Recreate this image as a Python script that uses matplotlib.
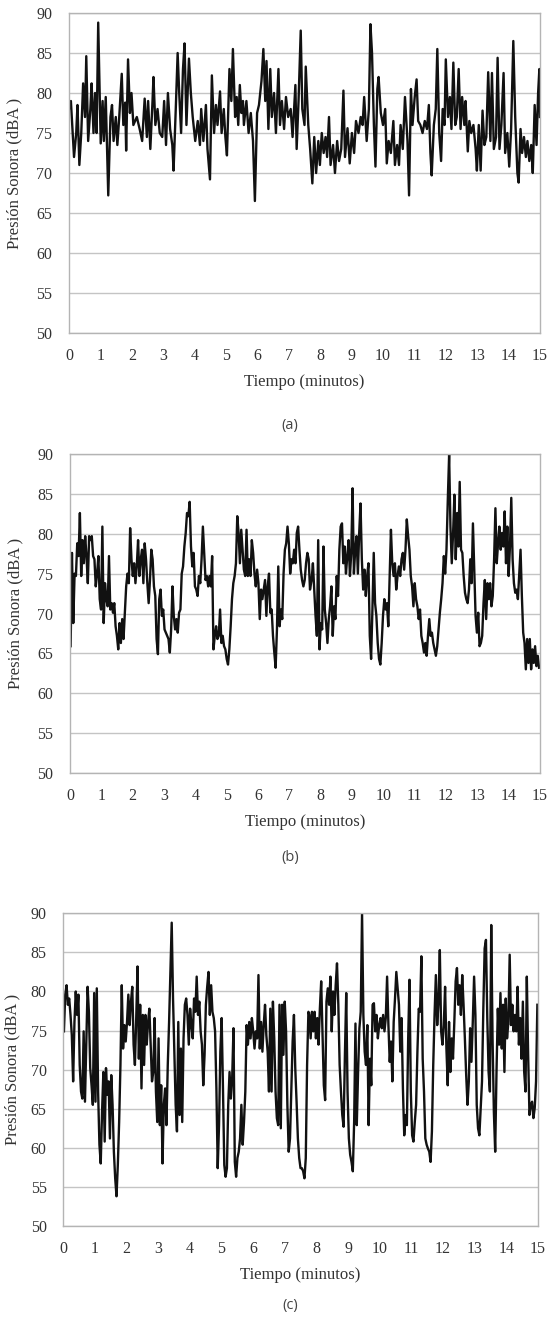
import numpy as np
import matplotlib
matplotlib.use('Agg')
import matplotlib.pyplot as plt

# --- panel (a): readings in minutes / dBA
time_a = [0.00, 0.06, 0.16, 0.23, 0.27, 0.33, 0.39, 0.45, 0.51, 0.55,
          0.61, 0.68, 0.72, 0.78, 0.83, 0.88, 0.93, 1.01, 1.07, 1.11,
          1.17, 1.25, 1.32, 1.37, 1.42, 1.49, 1.54, 1.60, 1.68, 1.73,
          1.79, 1.82, 1.88, 1.94, 1.99, 2.05, 2.16, 2.25, 2.33, 2.41,
          2.48, 2.52, 2.59, 2.66, 2.69, 2.75, 2.82, 2.89, 2.97, 3.03,
          3.09, 3.15, 3.22, 3.29, 3.33, 3.40, 3.46, 3.51, 3.57, 3.63,
          3.68, 3.74, 3.82, 3.88, 3.94, 4.02, 4.10, 4.17, 4.21, 4.28,
          4.36, 4.41, 4.49, 4.55, 4.62, 4.68, 4.73, 4.81, 4.86, 4.93,
          4.98, 5.03, 5.11, 5.17, 5.22, 5.29, 5.34, 5.39, 5.44, 5.49,
          5.54, 5.57, 5.65, 5.72, 5.79, 5.86, 5.92, 5.99, 6.05, 6.13,
          6.19, 6.25, 6.29, 6.35, 6.41, 6.46, 6.53, 6.59, 6.67, 6.72,
          6.78, 6.85, 6.91, 6.98, 7.06, 7.12, 7.21, 7.25, 7.31, 7.38,
          7.43, 7.50, 7.54, 7.62, 7.68, 7.75, 7.81, 7.87, 7.94, 7.99,
          8.05, 8.11, 8.17, 8.22, 8.28, 8.33, 8.41, 8.47, 8.54, 8.60,
          8.67, 8.74, 8.79, 8.87, 8.94, 9.01, 9.08, 9.14, 9.22, 9.29,
          9.35, 9.40, 9.48, 9.55, 9.60, 9.65, 9.71, 9.76, 9.82, 9.86,
          9.93, 10.00, 10.07, 10.12, 10.18, 10.25, 10.33, 10.38, 10.45, 10.51,
          10.56, 10.63, 10.70, 10.78, 10.83, 10.89, 10.94, 11.01, 11.07, 11.12,
          11.19, 11.26, 11.33, 11.40, 11.46, 11.51, 11.55, 11.62, 11.68, 11.73,
          11.79, 11.85, 11.90, 11.96, 12.00, 12.07, 12.13, 12.18, 12.24, 12.30,
          12.35, 12.41, 12.47, 12.52, 12.59, 12.63, 12.70, 12.75, 12.81, 12.88,
          12.95, 12.99, 13.05, 13.11, 13.17, 13.23, 13.29, 13.35, 13.42, 13.47,
          13.53, 13.60, 13.65, 13.71, 13.77, 13.84, 13.89, 13.96, 14.02, 14.08,
          14.15, 14.21, 14.28, 14.32, 14.38, 14.43, 14.49, 14.55, 14.60, 14.66,
          14.72, 14.77, 14.83, 14.89, 14.94, 14.98, 15.00]
level_a = [78, 79, 72, 75, 78.5, 71, 75, 81.2, 77, 84.6,
           74, 78, 81.2, 75, 80, 75, 88.8, 73.7, 79, 74,
           79.5, 67.2, 77, 78.5, 74, 77, 73.5, 77, 82.4, 76,
           78.8, 72.8, 84.2, 77.5, 80, 76, 77, 75.5, 74, 79.3,
           74.5, 79, 73, 79, 82, 76, 78, 75, 74.5, 79,
           73.5, 80, 75.5, 73.5, 70.3, 78, 85, 80, 75, 83,
           86.2, 76, 84.3, 80, 77, 74, 76.5, 73.5, 78, 74,
           78.5, 73, 69.2, 82.2, 75, 78.5, 76, 80.2, 75, 78,
           74.5, 72.2, 83, 79, 85.5, 77, 79.5, 76, 81, 77.5,
           79, 76, 79, 75, 77.5, 74, 66.5, 77.5, 78.5, 81.5,
           85.5, 79, 84, 75.5, 83, 77, 80, 75, 83, 76,
           79, 75.5, 79.5, 77, 78, 74.5, 81, 73, 79, 87.8,
           78, 76, 83.3, 76, 73, 68.7, 74.5, 70, 74, 71,
           75, 72.5, 74.5, 72, 77, 71, 73.5, 70, 74, 71.5,
           73, 80.3, 72, 75.6, 71.2, 75, 72.5, 76.5, 75, 77,
           76, 79.5, 74, 78, 88.6, 85, 76, 70.8, 80.5, 82,
           77.5, 76, 78, 71.2, 74, 72.5, 76.5, 71, 73.5, 71,
           76, 73, 79.5, 74, 67.2, 80.5, 76, 79.5, 81.7, 76.5,
           76, 75, 76.5, 75.5, 78.5, 72.5, 69.7, 76, 78, 85.5,
           75, 71.5, 78, 76, 84.2, 77, 79.5, 75.5, 83.8, 76,
           77, 83, 75.5, 79.5, 76, 79, 72.7, 76.5, 75, 76,
           73, 70.3, 76, 70.3, 77.8, 73.5, 74.5, 82.6, 74, 82.5,
           73, 74.5, 84.4, 73, 76, 82.5, 72.5, 75, 70.8, 75.5,
           86.5, 77, 70, 68.8, 75.5, 72.5, 74.5, 72, 74, 71.5,
           73.5, 70, 78.5, 73.5, 80, 83, 77]

# --- panel (b): two read-off segments, evenly sampled
level_b1 = [65.9, 77.6, 68.8, 75, 74.7, 78.8, 77.2, 82.6, 74.7, 79.2, 76.3, 79.7, 77.2, 73.8,
            79.7, 79.2, 79.7, 77.2, 76.8, 73.4, 75, 77.2, 71.8, 70.5, 80.9, 68.8, 73.8, 71.8,
            70.9, 77.2, 70.5, 71.3, 70.1, 71.3, 68.4, 67.2, 65.5, 68.8, 66.3, 69.3, 66.8, 70.1,
            73.4, 75, 73.8, 80.7, 76.8, 74.7, 76.3, 73.8, 75.9, 79.2, 74.7, 76.8, 78, 73.8,
            78.8, 76.8, 73.8, 71.3, 74.2, 78, 76.8, 73.4, 72.2, 66.8, 64.9, 71.8, 73, 69.7,
            70.5, 68, 67.6, 67.2, 66.8, 65.1, 68, 73.4, 69.7, 68, 69.3, 67.6, 70.1, 70.5,
            75, 75.9, 78.4, 80.1, 82.6, 82.2, 84, 78.4, 75.9, 77.6, 73.4, 73, 72.2, 74.7,
            73.8, 76.8, 80.9, 77.6, 74.2, 74.7, 73.4, 74.7, 73.4, 77.2, 65.5, 67.2, 68.4, 66.8,
            67.2, 70.5, 66.3, 67.2, 65.9, 65.5, 64.3, 63.6, 65.5, 68.4, 71.8, 73.8, 74.7, 76.3,
            82.2, 80.1, 76.3, 80.5, 78, 75.5, 74.7, 80.5, 74.7, 76.8, 74.7, 79.2, 77.6, 75,
            73.4, 75.5, 73.8, 69.3, 73, 71.8, 73, 74.2, 69.7, 73.4, 75, 70.1, 70.5, 67.2,
            65.1, 63.2, 68, 75.9, 68.4, 70.5, 69.3, 75, 78, 78.8, 80.9, 78.8, 75, 76.8,
            76.3, 78, 76.3, 80.1, 80.9, 78, 75.5, 74.2, 73.4, 74.2, 76.3, 77.6, 76.8, 73]
level_b2 = [74.2, 76.3, 73, 69.7, 67.2, 79.2, 65.5, 68.8, 68, 78.4, 70.5, 68.8, 66.3, 69.3,
            70.9, 73.4, 67.2, 70.9, 69.3, 74.7, 72.2, 78, 80.9, 81.3, 76.3, 78.4, 75, 77.2,
            79.2, 74.7, 77.6, 85.7, 75, 78, 79.7, 75, 80.1, 83.8, 76.8, 73, 75.5, 72.2,
            74.7, 76.3, 67.2, 64.3, 70.5, 77.6, 71.3, 69.7, 66.3, 64.3, 63.6, 66.3, 69.7, 71.8,
            70.5, 71.3, 68.4, 74.7, 80.5, 76.3, 74.7, 76.3, 73, 74.7, 75.9, 74.7, 76.8, 77.6,
            75.5, 78, 81.8, 79.7, 78, 74.7, 73.4, 70.9, 73.8, 71.8, 70.9, 69.3, 70.5, 67.2,
            66.3, 65.1, 66.3, 64.7, 67.2, 69.3, 67.2, 67.6, 66.3, 65.5, 64.7, 65.9, 68, 70.1,
            71.8, 73.8, 77.2, 75, 78, 84.3, 89.9, 80.9, 76.3, 80.1, 84.9, 76.8, 82.6, 78.4,
            86.5, 78, 77.6, 74.7, 72.6, 71.8, 71.3, 73, 76.8, 73.8, 81.3, 75.5, 69.7, 67.6,
            70.1, 65.9, 66.3, 67.2, 71.3, 74.2, 69.3, 73.8, 71.8, 73.8, 70.9, 72.2, 76.8, 83.2,
            76.3, 78.8, 80.9, 78, 80.1, 78.4, 82.8, 76.3, 80.9, 74.7, 78.4, 84.5, 76.8, 73.8,
            72.6, 73, 71.8, 75, 78, 72.2, 67.6, 66.3, 63, 66.8, 63.8, 66.8, 63, 65.5,
            63.8, 65.9, 63.4, 64.7, 63.2]
span_b1 = (0.02, 7.66)
span_b2 = (7.71, 14.97)

# --- panel (c)
level_c1 = [74.9, 79.6, 80.8, 78.3, 79.1, 77, 74.4, 68.5, 76.1, 80, 77, 79.6, 70.6, 67.2,
            66.3, 74.9, 65.9, 73.2, 80.6, 77.4, 70.2, 68, 65.5, 79.8, 65.9, 80.4, 67.2, 60.4,
            58, 64.6, 69.7, 60.8, 70.2, 66.8, 68.5, 61.2, 69.3, 65.5, 59.5, 56.1, 53.8, 57.8,
            63.3, 70.6, 80.8, 72.7, 75.7, 73.6, 76.1, 79.6, 75.7, 78.7, 80.6, 73.2, 70.6, 76.6,
            83.2, 71.4, 78.3, 67.6, 77, 70.6, 77, 73.2, 76.1, 77.8, 73.2, 68.5, 69.7, 76.6,
            67.2, 63.3, 74, 62.9, 68, 58, 65.5, 67.6, 62.9, 70.6, 76.1, 82.5, 88.8, 79.1,
            72.3, 65.5, 62.1, 76.1, 64.2, 72.7, 63.3, 74, 78.3, 79.1, 77, 73.2, 77.8, 75.7,
            74, 79.1, 77.4, 81.9, 77, 78.7, 74.9, 73.2, 68, 71.9, 78.3, 80.6, 82.5, 77,
            80.8, 77.4, 76.6, 74.9, 67.6, 57.4, 62.9, 72.3, 76.6, 67.6, 57.8, 56.3, 57.4, 65.5,
            69.7, 66.3, 68.9, 75.3, 58.2, 56.3, 58.7, 59.5, 61.2, 65.5, 60.4, 63.3, 67.2, 75.7,
            73.2, 76.1, 74, 76.6, 74.9, 72.7, 74.9, 74, 82.1, 72.7, 76.1, 72.3, 75.7, 78.3,
            74.4, 72.3, 67.2, 77.8, 67.2, 78.7, 74, 67.2, 63.8, 62.9, 78.3, 62.5, 78.3, 71.9,
            78.7, 74.9, 65.5, 59.5, 61.2, 67.2, 73.6, 77, 70.2, 65.9, 61.2, 58.7, 57.4, 57.4,
            57, 56.1, 58.7, 70.6, 77.4]
level_c2 = [77, 74, 77.4, 74.9, 77.4, 74, 76.6, 73.2, 77.8, 81.3, 74.9, 68, 66.1, 78.7,
            80.4, 78.3, 81.9, 74.9, 80, 77, 80.8, 83.6, 78.3, 70.6, 67.2, 64.2, 62.7, 71.9,
            79.8, 67.2, 61.2, 59.1, 58.2, 57, 63.3, 75.9, 62.9, 69.7, 75.3, 77.4, 90, 77,
            72.3, 70.6, 75.7, 62.9, 71.4, 68, 78.3, 78.5, 74.9, 77, 74, 75.7, 76.6, 75.3,
            77, 74.9, 76.6, 81.9, 75.7, 71, 73.6, 68.5, 76.1, 79.1, 82.5, 80.4, 78.3, 72.3,
            76.6, 67.6, 61.6, 64.2, 62.9, 74, 81.5, 67.2, 61.6, 60.8, 63.3, 65.5, 72.3, 77.8,
            77.4, 84.5, 71.4, 67.2, 61.2, 60.4, 59.9, 59.5, 58.2, 62.1, 70.6, 77, 82.1, 75.7,
            78.7, 85.3, 74.9, 73.2, 75.7, 80.6, 72.7, 68, 76.1, 69.7, 74, 71.4, 76.1, 81.3,
            83, 78.3, 80.8, 77, 82.1, 78.3, 74, 69.3, 65.5, 68.5, 75.3, 71, 76.1, 81.9,
            77, 65.5, 62.5, 61.6, 65.1, 68.5, 77.8, 85.5, 86.6, 76.6, 69.7, 67.2, 88.5, 74,
            64.6, 59.5, 69.7, 77.8, 73.2, 79.8, 72.7, 78.3, 69.7, 79.1, 74, 76.1, 84.7, 75.7,
            78.3, 74.9, 77, 74.9, 80.6, 73.2, 76.6, 71.4, 78.7, 69.7, 67.2, 81.9, 71.9, 64.2,
            65.5, 65.9, 63.8, 65.1, 68.5, 78.3]
span_c1 = (0.02, 7.745)
span_c2 = (7.774, 14.98)

x_ticks = list(range(0, 16))
y_ticks = list(range(50, 91, 5))
xlabel = 'Tiempo (minutos)'
ylabel = 'Presión Sonora (dBA )'


def segments(levels, spans):
    t, v = [], []
    for lv, (t0, t1) in zip(levels, spans):
        t.extend(np.linspace(t0, t1, len(lv)))
        v.extend(lv)
    return t, v


def style_panel(ax, ylab_x):
    ax.set_xlim(0, 15)
    ax.set_ylim(50, 90)
    ax.set_xticks(x_ticks)
    ax.set_yticks(y_ticks)
    ax.yaxis.grid(True, color='#c4c4c4', linewidth=1.0)
    ax.set_axisbelow(True)
    for sp in ax.spines.values():
        sp.set_color('#b4b4b4')
        sp.set_linewidth(1.0)
    ax.tick_params(length=0, labelsize=11.5, colors='#333333')
    ax.tick_params(axis='x', pad=11)
    ax.tick_params(axis='y', pad=12)
    for lab in ax.get_xticklabels() + ax.get_yticklabels():
        lab.set_family('Liberation Serif')
    ax.set_xlabel(xlabel, family='Liberation Serif', fontsize=12,
                  color='#333333', labelpad=7)
    ax.set_ylabel(ylabel, family='Liberation Serif', fontsize=12,
                  color='#333333')
    ax.yaxis.set_label_coords(ylab_x, 0.5)


fig = plt.figure(figsize=(5.54, 13.19), dpi=100)
W, H = 554.0, 1319.0

ax_a = fig.add_axes([69 / W, 1 - 333 / H, 471 / W, 320 / H])
ax_b = fig.add_axes([70 / W, 1 - 773 / H, 470 / W, 319 / H])
ax_c = fig.add_axes([63.3 / W, 1 - 1226 / H, 474.7 / W, 312.7 / H])

ax_a.plot(time_a, level_a, color='#111111', linewidth=1.7)
tb, vb = segments([level_b1, level_b2], [span_b1, span_b2])
ax_b.plot(tb, vb, color='#111111', linewidth=1.7)
tc, vc = segments([level_c1, level_c2], [span_c1, span_c2])
ax_c.plot(tc, vc, color='#111111', linewidth=1.7)

style_panel(ax_a, -0.098)
style_panel(ax_b, -0.100)
style_panel(ax_c, -0.091)

for tag, ypix, xpix in [('(a)', 425, 290), ('(b)', 857, 290), ('(c)', 1305, 290)]:
    fig.text(xpix / W, 1 - ypix / H, tag, ha='center', va='center',
             family='Open Sans', fontsize=10.5, color='#444444')

fig.savefig('out.png', dpi=100)
